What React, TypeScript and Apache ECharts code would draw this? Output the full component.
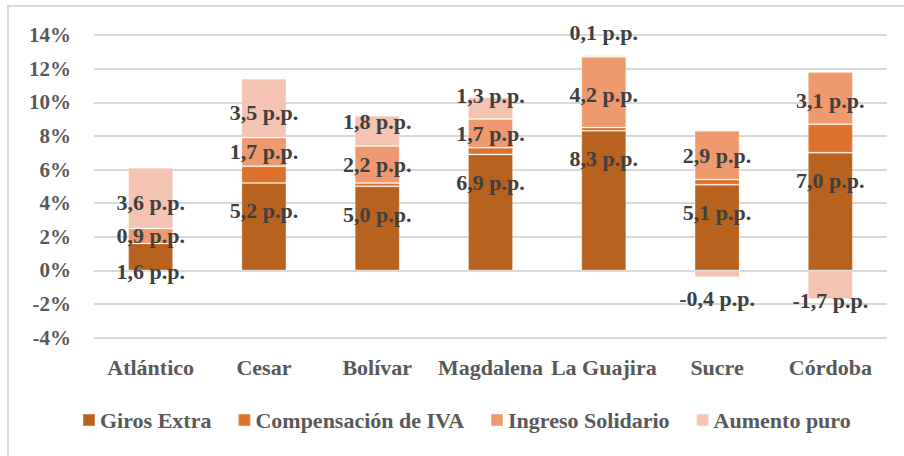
import React, { useEffect, useRef } from "react";
import * as echarts from "echarts";

const categories = ["Atlántico", "Cesar", "Bolívar", "Magdalena", "La Guajira", "Sucre", "Córdoba"];
const girosExtra = [1.6, 5.2, 5.0, 6.9, 8.3, 5.1, 7.0];
const compensacionIVA = [0.0, 1.0, 0.2, 0.4, 0.2, 0.3, 1.7];
const ingresoSolidario = [0.9, 1.7, 2.2, 1.7, 4.2, 2.9, 3.1];
const aumentoPuro = [3.6, 3.5, 1.8, 1.3, 0.1, -0.4, -1.7];
const seriesNames = ["Giros Extra", "Compensación de IVA", "Ingreso Solidario", "Aumento puro"];
const yTicks = { min: -4, max: 14, interval: 2 };

// label placement tweaks (style only)
const aumentoLabelShift = [4, 4, -9, -13, null, 25, 16];
const ingresoLabelShift = [0, 0, 0, 0, 2, 0, 2];

const FONT = "Liberation Serif";
const colors = ["#B8621F", "#DC722C", "#EF9A6E", "#F4C3B1"];

const fmt = (v: number) => v.toFixed(1).replace(".", ",") + " p.p.";

export default function App() {
  const ref = useRef<HTMLDivElement>(null);
  useEffect(() => {
    if (!ref.current) return;
    const chart = echarts.init(ref.current, null, { renderer: "svg" });
    const labelBase = {
      show: true,
      fontFamily: FONT,
      fontWeight: "bold",
      fontSize: 22,
      color: "#404040",
      textBorderWidth: 0,
      formatter: (p: any) => fmt(p.value),
    };
    const itemStyleFor = (i: number) => ({
      color: colors[i],
      borderColor: "rgba(255,255,255,0.25)",
      borderWidth: 1,
    });
    chart.setOption({
      animation: false,
      textStyle: { fontFamily: FONT },
      grid: { left: 94, top: 35, width: 793, height: 302.7 },
      legend: {
        left: 77,
        top: 404,
        icon: "rect",
        itemWidth: 12,
        itemHeight: 12,
        itemGap: 26,
        data: seriesNames,
        textStyle: { fontFamily: FONT, fontWeight: "bold", fontSize: 22, color: "#595959" },
      },
      xAxis: {
        type: "category",
        data: categories,
        axisLine: { show: false },
        axisTick: { show: false },
        axisLabel: { interval: 0, margin: 19, fontFamily: FONT, fontWeight: "bold", fontSize: 22, color: "#595959" },
      },
      yAxis: {
        type: "value",
        min: yTicks.min,
        max: yTicks.max,
        interval: yTicks.interval,
        axisLine: { show: false },
        axisTick: { show: false },
        splitLine: { lineStyle: { color: "#D9D9D9", width: 2 } },
        axisLabel: { formatter: "{value}%", margin: 23, fontFamily: FONT, fontWeight: "bold", fontSize: 21, color: "#595959" },
      },
      series: [
        {
          name: seriesNames[0],
          type: "bar",
          stack: "total",
          barWidth: 45,
          itemStyle: itemStyleFor(0),
          label: { ...labelBase, position: "insideTop", distance: 17 },
          data: girosExtra,
        },
        {
          name: seriesNames[1],
          type: "bar",
          stack: "total",
          barWidth: 45,
          itemStyle: itemStyleFor(1),
          label: { show: false },
          data: compensacionIVA,
        },
        {
          name: seriesNames[2],
          type: "bar",
          stack: "total",
          barWidth: 45,
          itemStyle: itemStyleFor(2),
          label: { ...labelBase, position: "inside" },
          data: ingresoSolidario.map((v, i) => ({
            value: v,
            label: { offset: [0, ingresoLabelShift[i]] },
          })),
        },
        {
          name: seriesNames[3],
          type: "bar",
          stack: "total",
          barWidth: 45,
          itemStyle: itemStyleFor(3),
          label: { ...labelBase, position: "inside" },
          data: aumentoPuro.map((v, i) => ({
            value: v,
            label:
              aumentoLabelShift[i] === null
                ? { position: "top", distance: 12 }
                : { offset: [0, aumentoLabelShift[i] as number] },
          })),
        },
      ],
    });
    return () => chart.dispose();
  }, []);
  return (
    <>
      <div
        style={{
          position: "absolute",
          left: 7,
          top: 5,
          width: 1000,
          height: 1000,
          border: "2px solid #D9D9D9",
          boxSizing: "border-box",
        }}
      />
      <div ref={ref} style={{ position: "absolute", left: 0, top: 0, width: 904, height: 456 }} />
    </>
  );
}
